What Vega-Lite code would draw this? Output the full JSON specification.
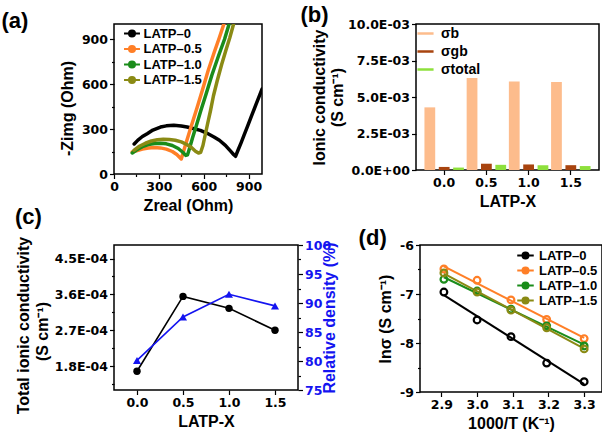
{
  "$schema": "https://vega.github.io/schema/vega-lite/v6.json",
  "background": "white",
  "padding": {"left": 0, "top": 3, "right": 2, "bottom": 2},
  "config": {
    "font": "Liberation Sans",
    "view": {"stroke": "black", "strokeWidth": 1.5},
    "axis": {
      "grid": false,
      "domain": false,
      "labelFont": "DejaVu Sans",
      "labelFontWeight": "bold",
      "labelFontSize": 12.5,
      "labelColor": "black",
      "labelPadding": 2,
      "labelFlush": false,
      "labelOverlap": false,
      "titleFont": "Liberation Sans",
      "titleFontSize": 16,
      "titleFontWeight": "bold",
      "titleColor": "black",
      "titleLimit": 400,
      "tickColor": "black",
      "tickWidth": 1.2,
      "tickSize": 4.5
    },
    "legend": {
      "labelFont": "Liberation Sans",
      "labelFontWeight": "bold",
      "labelFontSize": 13,
      "labelColor": "black",
      "padding": 0,
      "title": null
    },
    "title": {"font": "Liberation Sans", "fontSize": 22, "fontWeight": "bold", "color": "black"}
  },
  "datasets": {
    "nyquist": [
      {"sample": "LATP–0", "i": 0, "zr": 135, "zi": 200},
      {"sample": "LATP–0", "i": 1, "zr": 160, "zi": 226},
      {"sample": "LATP–0", "i": 2, "zr": 190, "zi": 250},
      {"sample": "LATP–0", "i": 3, "zr": 222, "zi": 269},
      {"sample": "LATP–0", "i": 4, "zr": 260, "zi": 293},
      {"sample": "LATP–0", "i": 5, "zr": 311, "zi": 313},
      {"sample": "LATP–0", "i": 6, "zr": 350, "zi": 321},
      {"sample": "LATP–0", "i": 7, "zr": 400, "zi": 325},
      {"sample": "LATP–0", "i": 8, "zr": 450, "zi": 320},
      {"sample": "LATP–0", "i": 9, "zr": 489, "zi": 313},
      {"sample": "LATP–0", "i": 10, "zr": 530, "zi": 303},
      {"sample": "LATP–0", "i": 11, "zr": 578, "zi": 291},
      {"sample": "LATP–0", "i": 12, "zr": 620, "zi": 273},
      {"sample": "LATP–0", "i": 13, "zr": 669, "zi": 247},
      {"sample": "LATP–0", "i": 14, "zr": 705, "zi": 225},
      {"sample": "LATP–0", "i": 15, "zr": 745, "zi": 191},
      {"sample": "LATP–0", "i": 16, "zr": 780, "zi": 152},
      {"sample": "LATP–0", "i": 17, "zr": 800, "zi": 130},
      {"sample": "LATP–0", "i": 18, "zr": 813, "zi": 118},
      {"sample": "LATP–0", "i": 19, "zr": 830, "zi": 160},
      {"sample": "LATP–0", "i": 20, "zr": 850, "zi": 208},
      {"sample": "LATP–0", "i": 21, "zr": 870, "zi": 259},
      {"sample": "LATP–0", "i": 22, "zr": 895, "zi": 323},
      {"sample": "LATP–0", "i": 23, "zr": 920, "zi": 387},
      {"sample": "LATP–0", "i": 24, "zr": 950, "zi": 464},
      {"sample": "LATP–0", "i": 25, "zr": 975, "zi": 528},
      {"sample": "LATP–0", "i": 26, "zr": 990, "zi": 566},
      {"sample": "LATP–0.5", "i": 0, "zr": 122, "zi": 147},
      {"sample": "LATP–0.5", "i": 1, "zr": 150, "zi": 155},
      {"sample": "LATP–0.5", "i": 2, "zr": 190, "zi": 166},
      {"sample": "LATP–0.5", "i": 3, "zr": 230, "zi": 173},
      {"sample": "LATP–0.5", "i": 4, "zr": 270, "zi": 176},
      {"sample": "LATP–0.5", "i": 5, "zr": 310, "zi": 174},
      {"sample": "LATP–0.5", "i": 6, "zr": 350, "zi": 166},
      {"sample": "LATP–0.5", "i": 7, "zr": 390, "zi": 150},
      {"sample": "LATP–0.5", "i": 8, "zr": 420, "zi": 130},
      {"sample": "LATP–0.5", "i": 9, "zr": 440, "zi": 110},
      {"sample": "LATP–0.5", "i": 10, "zr": 450, "zi": 100},
      {"sample": "LATP–0.5", "i": 11, "zr": 462, "zi": 140},
      {"sample": "LATP–0.5", "i": 12, "zr": 480, "zi": 200},
      {"sample": "LATP–0.5", "i": 13, "zr": 500, "zi": 265},
      {"sample": "LATP–0.5", "i": 14, "zr": 525, "zi": 345},
      {"sample": "LATP–0.5", "i": 15, "zr": 555, "zi": 440},
      {"sample": "LATP–0.5", "i": 16, "zr": 590, "zi": 555},
      {"sample": "LATP–0.5", "i": 17, "zr": 630, "zi": 690},
      {"sample": "LATP–0.5", "i": 18, "zr": 670, "zi": 810},
      {"sample": "LATP–0.5", "i": 19, "zr": 705, "zi": 910},
      {"sample": "LATP–0.5", "i": 20, "zr": 735, "zi": 1000},
      {"sample": "LATP–1.0", "i": 0, "zr": 122, "zi": 140},
      {"sample": "LATP–1.0", "i": 1, "zr": 150, "zi": 160},
      {"sample": "LATP–1.0", "i": 2, "zr": 190, "zi": 182},
      {"sample": "LATP–1.0", "i": 3, "zr": 230, "zi": 196},
      {"sample": "LATP–1.0", "i": 4, "zr": 270, "zi": 203},
      {"sample": "LATP–1.0", "i": 5, "zr": 310, "zi": 205},
      {"sample": "LATP–1.0", "i": 6, "zr": 350, "zi": 201},
      {"sample": "LATP–1.0", "i": 7, "zr": 390, "zi": 190},
      {"sample": "LATP–1.0", "i": 8, "zr": 430, "zi": 170},
      {"sample": "LATP–1.0", "i": 9, "zr": 460, "zi": 145},
      {"sample": "LATP–1.0", "i": 10, "zr": 480, "zi": 124},
      {"sample": "LATP–1.0", "i": 11, "zr": 492, "zi": 128},
      {"sample": "LATP–1.0", "i": 12, "zr": 505, "zi": 170},
      {"sample": "LATP–1.0", "i": 13, "zr": 525, "zi": 240},
      {"sample": "LATP–1.0", "i": 14, "zr": 550, "zi": 320},
      {"sample": "LATP–1.0", "i": 15, "zr": 580, "zi": 420},
      {"sample": "LATP–1.0", "i": 16, "zr": 615, "zi": 530},
      {"sample": "LATP–1.0", "i": 17, "zr": 655, "zi": 660},
      {"sample": "LATP–1.0", "i": 18, "zr": 700, "zi": 790},
      {"sample": "LATP–1.0", "i": 19, "zr": 740, "zi": 900},
      {"sample": "LATP–1.0", "i": 20, "zr": 770, "zi": 1000},
      {"sample": "LATP–1.5", "i": 0, "zr": 133, "zi": 158},
      {"sample": "LATP–1.5", "i": 1, "zr": 170, "zi": 185},
      {"sample": "LATP–1.5", "i": 2, "zr": 210, "zi": 205},
      {"sample": "LATP–1.5", "i": 3, "zr": 250, "zi": 220},
      {"sample": "LATP–1.5", "i": 4, "zr": 290, "zi": 228},
      {"sample": "LATP–1.5", "i": 5, "zr": 330, "zi": 231},
      {"sample": "LATP–1.5", "i": 6, "zr": 370, "zi": 230},
      {"sample": "LATP–1.5", "i": 7, "zr": 410, "zi": 225},
      {"sample": "LATP–1.5", "i": 8, "zr": 450, "zi": 214},
      {"sample": "LATP–1.5", "i": 9, "zr": 490, "zi": 195},
      {"sample": "LATP–1.5", "i": 10, "zr": 520, "zi": 175},
      {"sample": "LATP–1.5", "i": 11, "zr": 545, "zi": 152},
      {"sample": "LATP–1.5", "i": 12, "zr": 565, "zi": 140},
      {"sample": "LATP–1.5", "i": 13, "zr": 580, "zi": 145},
      {"sample": "LATP–1.5", "i": 14, "zr": 595, "zi": 190},
      {"sample": "LATP–1.5", "i": 15, "zr": 610, "zi": 260},
      {"sample": "LATP–1.5", "i": 16, "zr": 625, "zi": 330},
      {"sample": "LATP–1.5", "i": 17, "zr": 645, "zi": 420},
      {"sample": "LATP–1.5", "i": 18, "zr": 665, "zi": 520},
      {"sample": "LATP–1.5", "i": 19, "zr": 690, "zi": 620},
      {"sample": "LATP–1.5", "i": 20, "zr": 720, "zi": 730},
      {"sample": "LATP–1.5", "i": 21, "zr": 750, "zi": 830},
      {"sample": "LATP–1.5", "i": 22, "zr": 775, "zi": 910},
      {"sample": "LATP–1.5", "i": 23, "zr": 800, "zi": 1000}
    ],
    "cond": [
      {"x": "0.0", "kind": "σb", "s": 0.00429},
      {"x": "0.0", "kind": "σgb", "s": 0.00021},
      {"x": "0.0", "kind": "σtotal", "s": 0.000167},
      {"x": "0.5", "kind": "σb", "s": 0.0063},
      {"x": "0.5", "kind": "σgb", "s": 0.00043},
      {"x": "0.5", "kind": "σtotal", "s": 0.000355},
      {"x": "1.0", "kind": "σb", "s": 0.00607},
      {"x": "1.0", "kind": "σgb", "s": 0.00038},
      {"x": "1.0", "kind": "σtotal", "s": 0.000325},
      {"x": "1.5", "kind": "σb", "s": 0.00603},
      {"x": "1.5", "kind": "σgb", "s": 0.00033},
      {"x": "1.5", "kind": "σtotal", "s": 0.00027}
    ],
    "dens": [
      {"x": 0.0, "sigma": 0.000167, "rho": 80.1},
      {"x": 0.5, "sigma": 0.000355, "rho": 87.6},
      {"x": 1.0, "sigma": 0.000325, "rho": 91.5},
      {"x": 1.5, "sigma": 0.00027, "rho": 89.5}
    ],
    "arr": [
      {"sample": "LATP–0", "t": 2.907, "ln": -6.96},
      {"sample": "LATP–0", "t": 3.0, "ln": -7.53},
      {"sample": "LATP–0", "t": 3.095, "ln": -7.87},
      {"sample": "LATP–0", "t": 3.195, "ln": -8.41},
      {"sample": "LATP–0", "t": 3.3, "ln": -8.79},
      {"sample": "LATP–0.5", "t": 2.907, "ln": -6.49},
      {"sample": "LATP–0.5", "t": 3.0, "ln": -6.72},
      {"sample": "LATP–0.5", "t": 3.095, "ln": -7.12},
      {"sample": "LATP–0.5", "t": 3.195, "ln": -7.52},
      {"sample": "LATP–0.5", "t": 3.3, "ln": -7.91},
      {"sample": "LATP–1.0", "t": 2.907, "ln": -6.7},
      {"sample": "LATP–1.0", "t": 3.0, "ln": -6.94},
      {"sample": "LATP–1.0", "t": 3.095, "ln": -7.31},
      {"sample": "LATP–1.0", "t": 3.195, "ln": -7.65},
      {"sample": "LATP–1.0", "t": 3.3, "ln": -8.06},
      {"sample": "LATP–1.5", "t": 2.907, "ln": -6.57},
      {"sample": "LATP–1.5", "t": 3.0, "ln": -6.96},
      {"sample": "LATP–1.5", "t": 3.095, "ln": -7.33},
      {"sample": "LATP–1.5", "t": 3.195, "ln": -7.69},
      {"sample": "LATP–1.5", "t": 3.3, "ln": -8.12}
    ]
  },
  "columns": 1,
  "align": "none",
  "spacing": -9,
  "resolve": {"scale": {"color": "independent"}, "legend": {"color": "independent"}},
  "concat": [
    {
      "spacing": 36,
      "resolve": {"scale": {"color": "independent"}, "legend": {"color": "independent"}},
      "hconcat": [
        {
          "width": 148,
          "height": 150,
          "title": {"text": "(a)", "anchor": "start", "frame": "bounds", "dx": -58, "offset": -9},
          "data": {"name": "nyquist"},
          "mark": {"type": "line", "strokeWidth": 3.5, "clip": true, "strokeCap": "round", "strokeJoin": "round"},
          "encoding": {
            "x": {
              "field": "zr", "type": "quantitative",
              "scale": {"domain": [0, 990], "nice": false, "zero": false},
              "axis": {
                "title": "Zreal (Ohm)",
                "values": [0, 150, 300, 450, 600, 750, 900],
                "labelExpr": "datum.value % 300 == 0 ? datum.label : ''",
                "tickSize": {"condition": {"test": "datum.value % 300 != 0", "value": 2.5}, "value": 4.5}
              }
            },
            "y": {
              "field": "zi", "type": "quantitative",
              "scale": {"domain": [0, 1000], "nice": false},
              "axis": {
                "title": "-Zimg (Ohm)",
                "titlePadding": 6,
                "titleY": 84,
                "values": [0, 150, 300, 450, 600, 750, 900],
                "labelExpr": "datum.value % 300 == 0 ? datum.label : ''",
                "tickSize": {"condition": {"test": "datum.value % 300 != 0", "value": 2.5}, "value": 4.5}
              }
            },
            "color": {
              "field": "sample", "type": "nominal",
              "scale": {"domain": ["LATP–0", "LATP–0.5", "LATP–1.0", "LATP–1.5"], "range": ["#000000", "#FF7F27", "#1A8C1A", "#8A8A14"]},
              "legend": {
                "orient": "none",
                "legendX": 11.5,
                "legendY": 3,
                "symbolType": "M-1.45,0H1.45M-0.55,0A0.55,0.55,0,1,1,0.55,0A0.55,0.55,0,1,1,-0.55,0Z",
                "symbolSize": 121,
                "symbolStrokeWidth": 2,
                "rowPadding": 0.5,
                "labelOffset": 5,
                "encode": {
                  "symbols": {
                    "update": {
                      "fill": {"signal": "datum.value == 'LATP–0' ? '#000000' : datum.value == 'LATP–0.5' ? '#FF7F27' : datum.value == 'LATP–1.0' ? '#1A8C1A' : '#8A8A14'"},
                      "stroke": {"signal": "datum.value == 'LATP–0' ? '#000000' : datum.value == 'LATP–0.5' ? '#FF7F27' : datum.value == 'LATP–1.0' ? '#1A8C1A' : '#8A8A14'"}
                    }
                  }
                }
              }
            },
            "order": {"field": "i", "type": "quantitative"}
          }
        },
        {
          "width": 183,
          "height": 146,
          "title": {"text": "(b)", "anchor": "start", "frame": "bounds", "dx": -11, "offset": -9},
          "data": {"name": "cond"},
          "mark": {"type": "bar"},
          "encoding": {
            "x": {
              "field": "x", "type": "ordinal",
              "scale": {"paddingInner": 0.065, "paddingOuter": 0.2},
              "axis": {"title": "LATP-X", "labelAngle": 0, "titlePadding": 4}
            },
            "xOffset": {
              "field": "kind", "type": "nominal",
              "scale": {"domain": ["σb", "σgb", "σtotal"], "paddingInner": 0.25}
            },
            "y": {
              "field": "s", "type": "quantitative",
              "scale": {"domain": [0, 0.01], "nice": false},
              "axis": {
                "title": ["Ionic conductivity", "(S cm⁻¹)"],
                "titlePadding": 2,
                "values": [0, 0.0025, 0.005, 0.0075, 0.01],
                "labelExpr": "datum.value == 0 ? '0.0E+00' : format(datum.value * 1000, '.1f') + 'E-03'"
              }
            },
            "color": {
              "field": "kind", "type": "nominal",
              "scale": {"domain": ["σb", "σgb", "σtotal"], "range": ["#FDBC8C", "#A8440F", "#8EE03C"]},
              "legend": {
                "orient": "top-left",
                "offset": 0,
                "symbolType": "stroke",
                "symbolSize": 260,
                "symbolStrokeWidth": 2.5,
                "rowPadding": 1,
                "labelFontSize": 14,
                "labelOffset": 6,
                "encode": {
                  "symbols": {
                    "update": {
                      "stroke": {"signal": "datum.value == 'σb' ? '#FDBC8C' : datum.value == 'σgb' ? '#A8440F' : '#8EE03C'"}
                    }
                  }
                }
              }
            }
          }
        }
      ]
    },
    {
      "spacing": 18,
      "resolve": {"scale": {"color": "independent"}, "legend": {"color": "independent"}},
      "hconcat": [
        {
          "width": 184,
          "height": 145,
          "title": {"text": "(c)", "anchor": "start", "frame": "bounds", "dx": 0, "offset": 7},
          "data": {"name": "dens"},
          "layer": [
            {
              "mark": {"type": "line", "color": "black", "strokeWidth": 1.6},
              "encoding": {
                "x": {
                  "field": "x", "type": "quantitative",
                  "scale": {"domain": [-0.25, 1.75], "nice": false, "zero": false},
                  "axis": {"title": "LATP-X", "values": [0, 0.5, 1, 1.5], "format": ".1f", "titlePadding": 4}
                },
                "y": {
                  "field": "sigma", "type": "quantitative",
                  "scale": {"domain": [0.00012, 0.000484], "nice": false, "zero": false},
                  "axis": {
                    "orient": "left",
                    "title": "(S cm⁻¹)",
                    "titlePadding": 4,
                    "titleY": 86,
                    "values": [0.000135, 0.00018, 0.000225, 0.00027, 0.000315, 0.00036, 0.000405, 0.00045],
                    "labelExpr": "abs(datum.value * 1e4 / 0.9 - round(datum.value * 1e4 / 0.9)) > 0.1 ? '' : format(datum.value * 1e4, '.1f') + 'E-04'",
                    "tickSize": {"condition": {"test": "abs(datum.value * 1e4 / 0.9 - round(datum.value * 1e4 / 0.9)) > 0.1", "value": 2.5}, "value": 4.5}
                  }
                }
              }
            },
            {
              "mark": {"type": "point", "filled": true, "color": "black", "size": 55, "opacity": 1},
              "encoding": {
                "x": {"field": "x", "type": "quantitative"},
                "y": {
                  "field": "sigma", "type": "quantitative",
                  "scale": {"domain": [0.00012, 0.000484], "nice": false, "zero": false},
                  "axis": {
                    "orient": "left",
                    "title": "Total ionic conductivity",
                    "labels": false,
                    "ticks": false,
                    "minExtent": 0,
                    "titlePadding": 83,
                    "titleY": 80
                  }
                }
              }
            },
            {
              "encoding": {
                "x": {"field": "x", "type": "quantitative"},
                "y": {
                  "field": "rho", "type": "quantitative",
                  "scale": {"domain": [75, 100], "nice": false, "zero": false},
                  "axis": {
                    "orient": "right",
                    "title": "Relative density (%)",
                    "titleAngle": 270,
                    "titleColor": "#1414F0",
                    "labelColor": "#1414F0",
                    "titlePadding": 7,
                    "titleLimit": 1000,
                    "values": [75, 77.5, 80, 82.5, 85, 87.5, 90, 92.5, 95, 97.5, 100],
                    "labelExpr": "datum.value % 5 == 0 ? datum.label : ''",
                    "tickSize": {"condition": {"test": "datum.value % 5 != 0", "value": 2.5}, "value": 4.5}
                  }
                }
              },
              "layer": [
                {"mark": {"type": "line", "color": "#1414F0", "strokeWidth": 1.6}},
                {"mark": {"type": "point", "shape": "triangle-up", "filled": true, "color": "#1414F0", "size": 65, "opacity": 1}}
              ]
            }
          ],
          "resolve": {"scale": {"y": "independent"}}
        },
        {
          "width": 182,
          "height": 147,
          "title": {"text": "(d)", "anchor": "start", "frame": "bounds", "dx": -19, "offset": -11},
          "data": {"name": "arr"},
          "encoding": {
            "x": {
              "field": "t", "type": "quantitative",
              "scale": {"domain": [2.84, 3.35], "nice": false, "zero": false},
              "axis": {"title": "1000/T (K⁻¹)", "values": [2.9, 3.0, 3.1, 3.2, 3.3], "format": ".1f", "titlePadding": 4}
            },
            "y": {
              "field": "ln", "type": "quantitative",
              "scale": {"domain": [-9, -6], "nice": false, "zero": false},
              "axis": {
                "title": "lnσ (S cm⁻¹)",
                "titlePadding": 6,
                "values": [-9, -8.5, -8, -7.5, -7, -6.5, -6],
                "labelExpr": "datum.value % 1 == 0 ? '' + datum.value : ''",
                "tickSize": {"condition": {"test": "datum.value % 1 != 0", "value": 2.5}, "value": 4.5}
              }
            },
            "color": {
              "field": "sample", "type": "nominal",
              "scale": {"domain": ["LATP–0", "LATP–0.5", "LATP–1.0", "LATP–1.5"], "range": ["#000000", "#FF7F27", "#1A8C1A", "#8A8A14"]},
              "legend": {
                "orient": "top-right",
                "offset": 4,
                "symbolType": "M-1.5,0H1.5M-0.55,0A0.55,0.55,0,1,1,0.55,0A0.55,0.55,0,1,1,-0.55,0Z",
                "symbolSize": 121,
                "symbolStrokeWidth": 2,
                "rowPadding": 0,
                "labelOffset": 7,
                "encode": {
                  "symbols": {
                    "update": {
                      "fill": {"signal": "datum.value == 'LATP–0' ? '#000000' : datum.value == 'LATP–0.5' ? '#FF7F27' : datum.value == 'LATP–1.0' ? '#1A8C1A' : '#8A8A14'"},
                      "stroke": {"signal": "datum.value == 'LATP–0' ? '#000000' : datum.value == 'LATP–0.5' ? '#FF7F27' : datum.value == 'LATP–1.0' ? '#1A8C1A' : '#8A8A14'"}
                    }
                  }
                }
              }
            }
          },
          "layer": [
            {
              "transform": [{"regression": "ln", "on": "t", "groupby": ["sample"]}],
              "mark": {"type": "line", "strokeWidth": 2}
            },
            {
              "mark": {"type": "point", "filled": false, "size": 45, "strokeWidth": 2.2, "opacity": 1}
            }
          ]
        }
      ]
    }
  ]
}
